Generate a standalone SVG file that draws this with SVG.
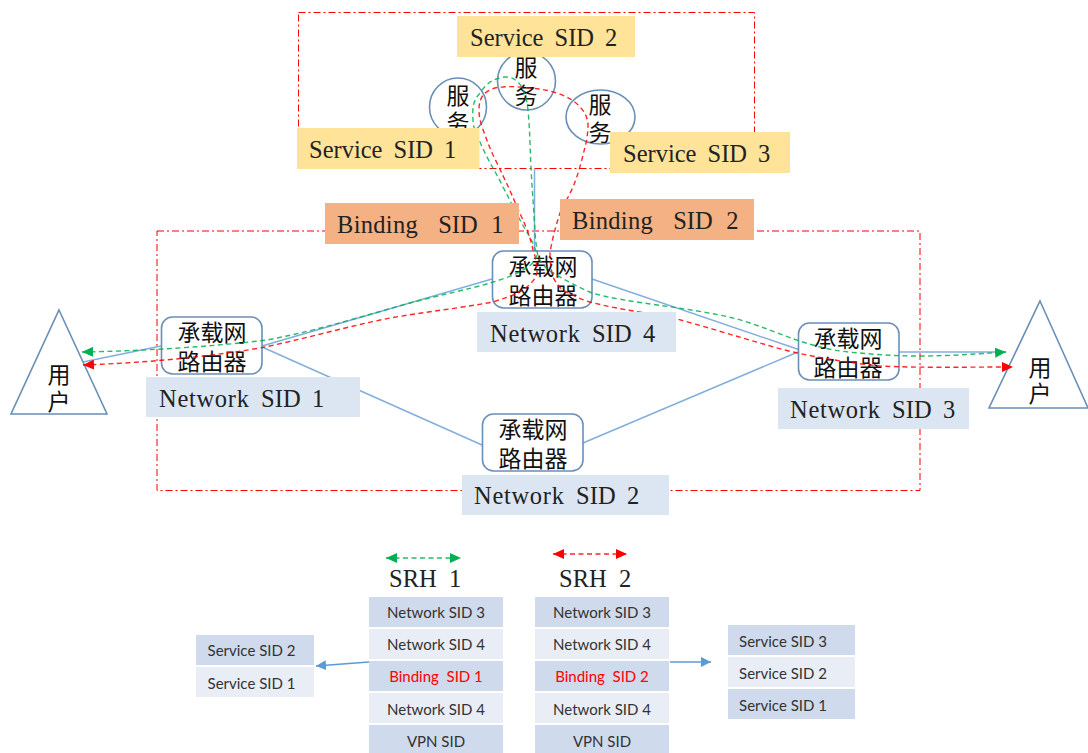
<svg xmlns="http://www.w3.org/2000/svg" width="1088" height="753" viewBox="0 0 1088 753">
<style>
.bg{fill:#fff}
.frame{fill:none;stroke:#f00;stroke-width:1;stroke-dasharray:7 3 2 3}
.node{fill:#fff;stroke:#6a8fb6;stroke-width:1.6}
.cjk{font-family:"Noto Sans CJK SC","Noto Sans CJK JP",sans-serif;font-size:23px;fill:#111;text-anchor:middle}
.lab{font-family:"Liberation Serif",serif;font-size:24.5px;fill:#222;white-space:pre}
.net{letter-spacing:.7px}
.bind{letter-spacing:.3px}
.svc{word-spacing:-.6px}
.nw{word-spacing:-.4px}
.bd{word-spacing:.6px}
.sm{font-family:Lato,"Open Sans",sans-serif;font-size:15px;fill:#333;text-anchor:middle;white-space:pre}
.y{fill:#ffe399}.o{fill:#f4b183}.b{fill:#dce6f2}.d{fill:#cfdaec}.l{fill:#e9edf5}
.blue{fill:none;stroke:#82aede;stroke-width:1.5}
.g{fill:none;stroke:#00b050;stroke-width:1.4;stroke-dasharray:5 3.500;stroke-opacity:.85}
.r{fill:none;stroke:#f00;stroke-width:1.4;stroke-dasharray:5 3.500;stroke-opacity:.85}
</style>
<defs>
<marker id="ag" markerUnits="userSpaceOnUse" markerWidth="12" markerHeight="10" refX="11" refY="5" orient="auto-start-reverse"><path d="M0 0L11 5L0 10Z" fill="#00b050"/></marker>
<marker id="ar" markerUnits="userSpaceOnUse" markerWidth="12" markerHeight="10" refX="11" refY="5" orient="auto-start-reverse"><path d="M0 0L11 5L0 10Z" fill="#f00"/></marker>
<marker id="ab" markerUnits="userSpaceOnUse" markerWidth="11" markerHeight="10" refX="10" refY="5" orient="auto"><path d="M0 0L10 5L0 10Z" fill="#5b9bd5"/></marker>
</defs>
<rect class="bg" width="1088" height="753"/>
<rect class="frame" x="298.500" y="12.500" width="456" height="156"/>
<rect class="frame" x="157" y="231" width="763" height="259.500"/>

<g id="svc1"><ellipse class="node" cx="458" cy="107" rx="28.500" ry="29"/><text class="cjk" x="458" y="104">服</text><text class="cjk" x="458" y="131">务</text></g>
<g id="svc2"><ellipse class="node" cx="526.500" cy="81" rx="29" ry="29"/><text class="cjk" x="526" y="76">服</text><text class="cjk" x="526" y="104">务</text></g>
<g id="svc3"><ellipse class="node" cx="600.500" cy="117" rx="34.500" ry="27"/><text class="cjk" x="600" y="113">服</text><text class="cjk" x="600" y="141">务</text></g>

<g id="connectors">
<path class="blue" d="M534.500 169V252"/>
<path class="blue" d="M83 362L161 346M262 346L492 279M592 279L806 352"/>
<path class="blue" d="M262 347L482 445M583 443L798 352M899 352L1006 352"/>
</g>

<g id="user1"><path class="node" d="M59 310L107 414H11Z"/><text class="cjk" x="59" y="383">用</text><text class="cjk" x="59" y="410">户</text></g>
<g id="user2"><path class="node" d="M1040 301L1088 408H989Z"/><text class="cjk" x="1040" y="376">用</text><text class="cjk" x="1040" y="402">户</text></g>

<g id="router4"><rect class="node" x="492.500" y="251" width="99.500" height="57" rx="11"/><text class="cjk" x="543" y="275">承载网</text><text class="cjk" x="543" y="304">路由器</text></g>
<g id="router1"><rect class="node" x="161.500" y="317" width="100.500" height="57" rx="11"/><text class="cjk" x="212" y="341">承载网</text><text class="cjk" x="212" y="370">路由器</text></g>
<g id="router3"><rect class="node" x="798.500" y="323" width="100.500" height="57" rx="11"/><text class="cjk" x="848" y="347">承载网</text><text class="cjk" x="848" y="376">路由器</text></g>
<g id="router2"><rect class="node" x="482.500" y="414" width="100.500" height="57" rx="11"/><text class="cjk" x="533" y="438">承载网</text><text class="cjk" x="533" y="467">路由器</text></g>

<g id="paths">
<path class="g" marker-start="url(#ag)" marker-end="url(#ag)" d="M82 352C140 351 210 347 267 340C320 330 370 314 410 303C440 295 470 289 490 283C510 277 535 268 537 255C533 240 527 233 520 220C512 205 510 200 503 187C495 170 490 165 480 142C476 132 473 128 473 120C472 105 474 100 480 93C486 84 492 79 504 77C520 76 526 92 528 110C530 130 530 150 531 167C532 190 534 210 535 233C536 245 537 250 538 257C542 264 546 269 553 273C565 280 578 287 592 293C625 303 690 307 737 319C765 327 790 339 813 345C830 350 845 352 860 353C880 355 900 356 920 356C950 356 975 354 1006 352"/>
<path class="r" marker-start="url(#ar)" marker-end="url(#ar)" d="M83 365C140 363 200 358 260 348C300 340 345 327 390 318C425 312 460 308 493 302C505 298 515 295 523 290C530 285 535 280 537 273C537 265 536 258 533 250C530 235 524 222 517 207C510 190 505 180 497 163C490 150 487 140 482 127C480 120 479 116 479 110C479 104 480 100 483 95C488 90 495 87 503 87C512 86 520 87 530 88C540 89 548 90 557 93C566 96 574 100 580 107C585 112 587 117 588 123C588 132 587 140 585 147C582 160 578 175 573 187C568 198 564 204 560 213C556 225 552 240 550 253C550 262 551 270 553 277C556 283 559 287 563 290C572 295 580 299 590 302C620 310 650 313 673 318C700 325 735 336 760 343C770 346 780 349 793 352C820 358 850 363 880 366C920 368 965 367 1013 367"/>
<path class="g" marker-start="url(#ag)" marker-end="url(#ag)" d="M386 558H461"/>
<path class="r" marker-start="url(#ar)" marker-end="url(#ar)" d="M553 554H627"/>
<path fill="none" stroke="#5b9bd5" stroke-width="1.3" d="M369 662L316 666" marker-end="url(#ab)"/>
<path fill="none" stroke="#5b9bd5" stroke-width="1.3" d="M670 662H711" marker-end="url(#ab)"/>
</g>

<g id="sid-s2"><rect class="y" x="457" y="16" width="178" height="41"/><text class="lab svc" x="470" y="46">Service  SID  2</text></g>
<g id="sid-s1"><rect class="y" x="297" y="128" width="182.500" height="41"/><text class="lab svc" x="309" y="158">Service  SID  1</text></g>
<g id="sid-s3"><rect class="y" x="610" y="132" width="180" height="41"/><text class="lab svc" x="623" y="162">Service  SID  3</text></g>
<g id="sid-b1"><rect class="o" x="325" y="203" width="194" height="41"/><text class="lab bd" x="337" y="233"><tspan class="bind">Binding</tspan>   SID  1</text></g>
<g id="sid-b2"><rect class="o" x="560" y="199" width="194" height="41"/><text class="lab bd" x="572" y="229"><tspan class="bind">Binding</tspan>   SID  2</text></g>
<g id="sid-n4"><rect class="b" x="477" y="312" width="199" height="40"/><text class="lab nw" x="490" y="342"><tspan class="net">Network</tspan>  SID  4</text></g>
<g id="sid-n1"><rect class="b" x="146" y="377" width="214" height="40"/><text class="lab nw" x="159" y="407"><tspan class="net">Network</tspan>  SID  1</text></g>
<g id="sid-n3"><rect class="b" x="778" y="388" width="191" height="41"/><text class="lab nw" x="790" y="418"><tspan class="net">Network</tspan>  SID  3</text></g>
<g id="sid-n2"><rect class="b" x="462" y="475" width="207" height="40"/><text class="lab nw" x="474" y="504"><tspan class="net">Network</tspan>  SID  2</text></g>

<text class="lab" x="389" y="587">SRH  1</text>
<text class="lab" x="559" y="587">SRH  2</text>

<g id="srh1">
<rect class="d" x="369" y="597" width="134" height="30"/><text class="sm" x="436" y="618">Network SID 3</text>
<rect class="l" x="369" y="629" width="134" height="30"/><text class="sm" x="436" y="650">Network SID 4</text>
<rect class="d" x="369" y="661" width="134" height="30"/><text class="sm" x="436" y="682" style="fill:#f00">Binding  SID 1</text>
<rect class="l" x="369" y="693" width="134" height="30"/><text class="sm" x="436" y="715">Network SID 4</text>
<rect class="d" x="369" y="725" width="134" height="28"/><text class="sm" x="436" y="747">VPN SID</text>
</g>
<g id="srh2">
<rect class="d" x="535" y="597" width="134" height="30"/><text class="sm" x="602" y="618">Network SID 3</text>
<rect class="l" x="535" y="629" width="134" height="30"/><text class="sm" x="602" y="650">Network SID 4</text>
<rect class="d" x="535" y="661" width="134" height="30"/><text class="sm" x="602" y="682" style="fill:#f00">Binding  SID 2</text>
<rect class="l" x="535" y="693" width="134" height="30"/><text class="sm" x="602" y="715">Network SID 4</text>
<rect class="d" x="535" y="725" width="134" height="28"/><text class="sm" x="602" y="747">VPN SID</text>
</g>
<g id="stack-left">
<rect class="d" x="196" y="635" width="118" height="30"/><text class="sm" x="251.500" y="656">Service SID 2</text>
<rect class="l" x="196" y="667" width="118" height="30"/><text class="sm" x="251.500" y="689">Service SID 1</text>
</g>
<g id="stack-right">
<rect class="d" x="728" y="625" width="127" height="30"/><text class="sm" x="783" y="647">Service SID 3</text>
<rect class="l" x="728" y="657" width="127" height="30"/><text class="sm" x="783" y="679">Service SID 2</text>
<rect class="d" x="728" y="689" width="127" height="30"/><text class="sm" x="783" y="711">Service SID 1</text>
</g>
</svg>
